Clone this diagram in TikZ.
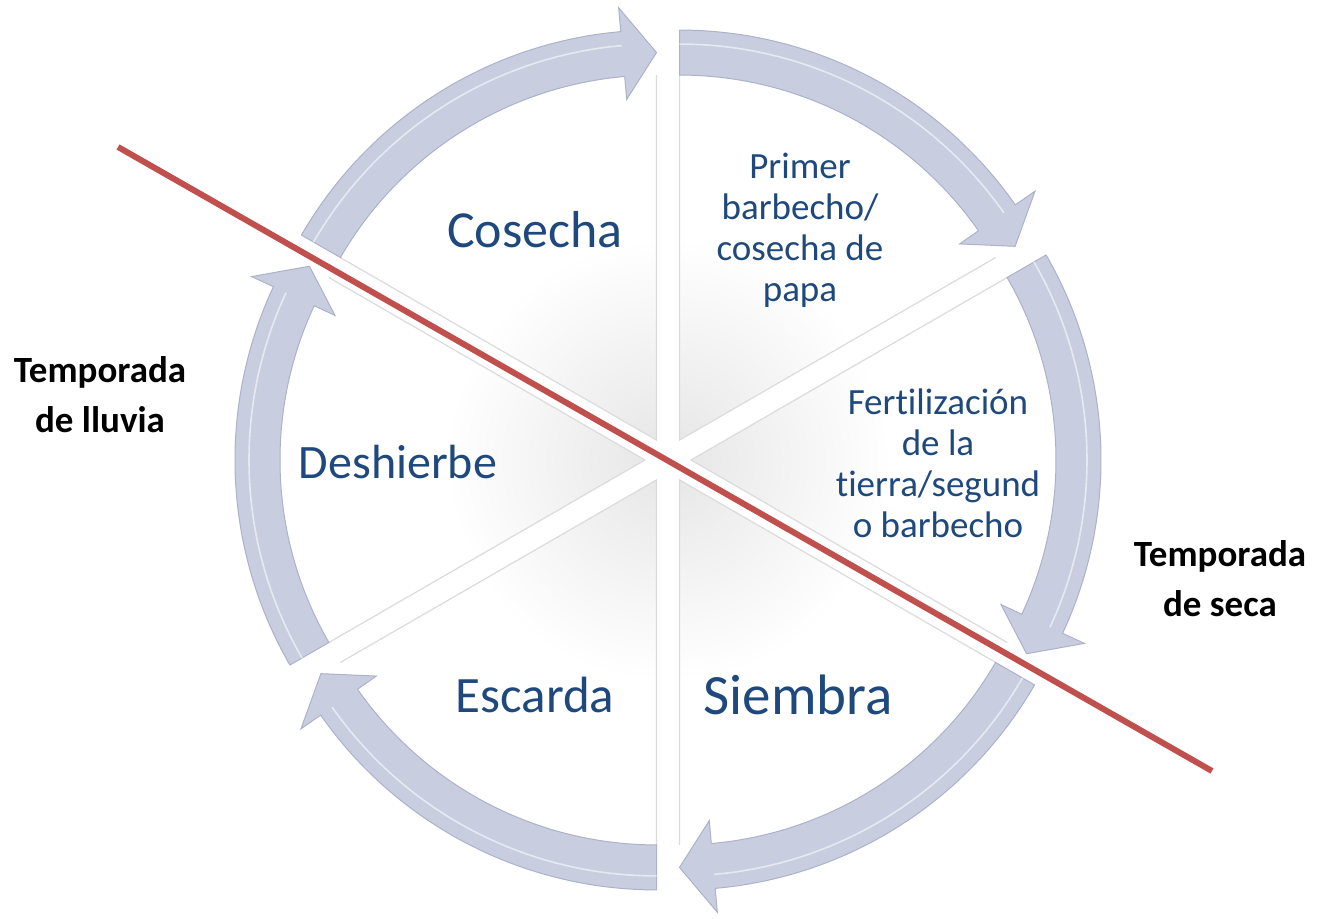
\documentclass[tikz,border=0pt]{standalone}
\usepackage{fontspec}
\setmainfont{Carlito}[Ligatures=NoCommon]
\usepackage{tikz}
\definecolor{cycletext}{HTML}{1F497D}
\definecolor{cyclearrow}{HTML}{C9CDE0}
\definecolor{cycleedge}{HTML}{ADB2CB}
\definecolor{seasonline}{HTML}{C0504D}
\tikzset{
	sector/.style={fill=white},
	sectoredge/.style={draw=black!14, line width=0.6pt},
	arcarrow/.style={fill=cyclearrow, draw=cycleedge, line width=0.5pt},
	phase/.style={text=cycletext, align=center, inner sep=0pt},
	smallphase/.style={phase, font=\fontsize{18.5}{20.5}\selectfont},
	season/.style={font=\bfseries\fontsize{18.5}{25}\selectfont, align=center, inner sep=0pt}
}

\begin{document}
\begin{tikzpicture}[x=0.5pt, y=0.5pt]
		\useasboundingbox (-668,-459) rectangle (659,460);
		\foreach \b in{
				60,
				0,
				-60,
				-120,
				180,
				120
		}{
		\pgfmathsetmacro{\ta}{\b+30}
		\pgfmathsetmacro{\tc}{\b-30}
		\pgfmathsetmacro{\tb}{\tc+5}
		\begin{scope}[shift={(\b:23)}]
				\fill[sector] (0,0) -- (\ta:410) arc[start angle=\ta, end angle=\tc, radius=410] -- cycle;
				\begin{scope}
						\clip (0,0) -- (\ta:410) arc[start angle=\ta, end angle=\tc, radius=410] -- cycle;
						\shade[inner color=black!9, outer color=white] (0,0) circle[radius=200];
				\end{scope}
				\draw[sectoredge] (\ta:365) -- (0,0) -- (\tc:365);
				\filldraw[arcarrow] (\ta:410) arc[start angle=\ta, end angle=\tb, radius=410]
						-- (\tb:434) -- (\tc:387.5) -- (\tb:342) -- (\tb:365)
						arc[start angle=\tb, end angle=\ta, radius=365] -- cycle;
				\draw[white!55!cyclearrow, line width=0.8pt] (\ta:396) arc[start angle=\ta, end angle=\tb, radius=396];
		\end{scope}
		}

		\node[phase, font=\fontsize{26}{30}\selectfont] (cosecha) at (-133,230) {Cosecha};
		\node[smallphase] (barbecho) at (132,230) {Primer\\barbecho/\\cosecha de\\papa};
		\node[smallphase] (fertilizacion) at (270,-3) {Fertilización\\de la\\tierra/segund\\o barbecho};
		\node[phase, font=\fontsize{28.5}{32}\selectfont] (siembra) at (130,-235) {Siembra};
		\node[phase, font=\fontsize{25.5}{30}\selectfont] (escarda) at (-133,-235) {Escarda};
		\node[phase, font=\fontsize{24}{28}\selectfont] (deshierbe) at (-270,-2) {Deshierbe};

		\coordinate (lluviaend) at (-550,313);
		\coordinate (secaend) at (544,-311);
		\draw[seasonline, line width=3pt] (lluviaend) -- (secaend);

		\node[season] (lluvia) at (-568,65) {Temporada\\de lluvia};
		\node[season] (seca) at (552,-119) {Temporada\\de seca};
\end{tikzpicture}
\end{document}
